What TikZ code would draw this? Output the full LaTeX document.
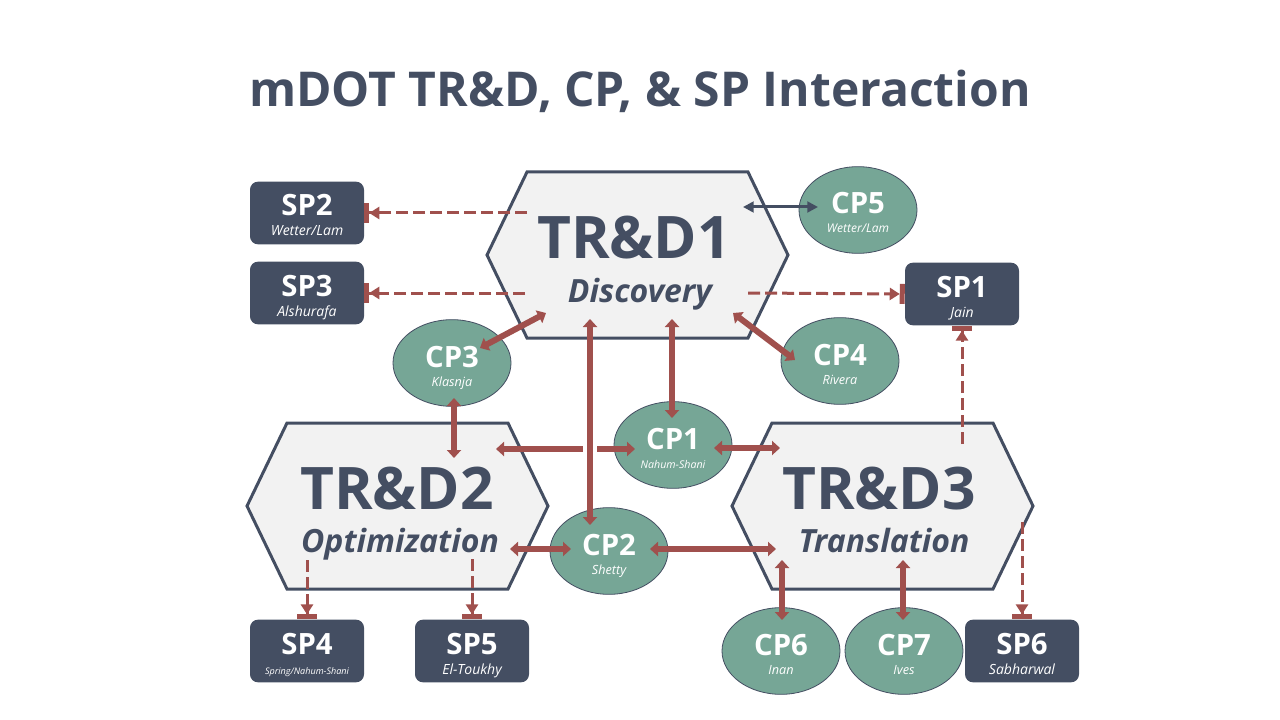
\documentclass[tikz,border=0pt]{standalone}
\usepackage{fontspec}
\setmainfont{Open Sans}
\usetikzlibrary{arrows.meta,calc,shapes.geometric}

\definecolor{slate}{RGB}{68,78,98}
\definecolor{cpgreen}{RGB}{118,166,150}
\definecolor{arrred}{RGB}{160,80,77}
\definecolor{hexfill}{RGB}{242,242,242}

% hexagon: name, x, y
\newcommand{\hexa}[3]{%
  \coordinate (#1) at (#2,#3);
  \draw[hexline] ($(#1)+(-150,0)$) -- ++(40,-83) -- ++(221,0) -- ++(40,83) -- ++(-40,83) -- ++(-221,0) -- cycle;}
% box or ellipse with label and name under it
\newcommand{\spnode}[6][10.5]{%
  \node[spbox] (#2) at (#3,#4) {};
  \node[boxlbl] (#2l) at ($(#2)+(0,3)$) {#5};
  \node[boxsub,font=\fontsize{#1}{#1}\selectfont\itshape] (#2s) at ($(#2)+(0,23)$) {#6};}
\newcommand{\cpnode}[6][9.5]{%
  \node[cpell] (#2) at (#3,#4) {};
  \node[boxlbl] (#2l) at ($(#2)+(0,4)$) {#5};
  \node[boxsub,font=\fontsize{#1}{#1}\selectfont\itshape] (#2s) at ($(#2)+(0,23)$) {#6};}

\begin{document}
\begin{tikzpicture}[x=0.75pt,y=-0.75pt,
  hexline/.style={draw=slate,fill=hexfill,line width=2.25pt},
  hextitle/.style={text=slate,anchor=base,inner sep=0pt,font=\fontsize{44}{44}\selectfont\bfseries},
  hexsub/.style={text=slate,anchor=base,inner sep=0pt,font=\fontsize{24}{24}\selectfont\bfseries\itshape},
  spbox/.style={fill=slate,rounded corners=6pt,minimum width=85.5pt,minimum height=47pt,inner sep=0pt},
  cpell/.style={ellipse,fill=cpgreen,draw=slate,line width=0.6pt,minimum width=88.5pt,minimum height=65pt,inner sep=0pt},
  boxlbl/.style={text=white,anchor=base,inner sep=0pt,font=\fontsize{22}{22}\selectfont\bfseries},
  boxsub/.style={text=white,anchor=base,inner sep=0pt},
  spline/.style={draw=arrred,line width=2.25pt,dash pattern=on 9pt off 3.75pt,
    -{Triangle[length=7.5pt,width=9pt] Bar[width=15pt,line width=3.75pt]}},
  cpline/.style={draw=arrred,line width=4.5pt,
    {Triangle[length=6pt,width=10.5pt]}-{Triangle[length=6pt,width=10.5pt]}},
  cpleft/.style={draw=arrred,line width=4.5pt,{Triangle[length=6pt,width=10.5pt]}-},
  cpright/.style={draw=arrred,line width=4.5pt,-{Triangle[length=6pt,width=10.5pt]}},
  darkline/.style={draw=slate,line width=2.25pt,
    {Triangle[length=8pt,width=8pt]}-{Triangle[length=8pt,width=8pt]}}]
%	\draw[help lines] (0,0) grid[step=40] (1280,720);
\useasboundingbox (0,0) rectangle (1280,720);

\node[text=slate,anchor=base,font=\fontsize{36}{36}\selectfont\bfseries] (title) at (640,107)
  {mDOT TR\&D, CP, \& SP Interaction};

% the three TR&D hexagons
\hexa{d1}{637}{255}
\hexa{d2}{397}{506}
\hexa{d3}{882}{506}
\node[hextitle] (d1t) at ($(d1)+(-3,3)$) {TR\&D1};
\node[hexsub] (d1s) at ($(d1)+(3,47)$) {Discovery};
\node[hextitle] (d2t) at ($(d2)+(0,3)$) {TR\&D2};
\node[hexsub] (d2s) at ($(d2)+(3,46)$) {Optimization};
\node[hextitle] (d3t) at ($(d3)+(-3,3)$) {TR\&D3};
\node[hexsub] (d3s) at ($(d3)+(2,46)$) {Translation};

% service projects
\spnode{sp1}{962}{294}{SP1}{Jain}
\spnode{sp2}{307}{213}{SP2}{Wetter/Lam}
\spnode{sp3}{307}{293}{SP3}{Alshurafa}
\spnode[6.8]{sp4}{307}{651}{SP4}{Spring/Nahum-Shani}
\spnode{sp5}{472}{651}{SP5}{El-Toukhy}
\spnode{sp6}{1022}{651}{SP6}{Sabharwal}

% collaborative projects
\cpnode[8]{cp1}{673}{445}{CP1}{Nahum-Shani}
\cpnode{cp2}{609}{551}{CP2}{Shetty}
\cpnode{cp3}{452}{363}{CP3}{Klasnja}
\cpnode{cp4}{840}{361}{CP4}{Rivera}
\cpnode[9]{cp5}{858}{210}{CP5}{Wetter/Lam}
\cpnode{cp6}{781}{651}{CP6}{Inan}
\cpnode{cp7}{904}{651}{CP7}{Ives}

% TR&D -> SP
\draw[spline] ($(d1)+(-110,-42)$) -- (sp2.east);
\draw[spline] ($(d1)+(-112,38)$) -- (sp3.east);
\draw[spline] ($(d1)+(111,38)$) -- (sp1.west);
\draw[spline] ($(d3)+(80,-62)$) -- (sp1.south);
\draw[spline] ($(d2)+(-90,54)$) -- (sp4.north);
\draw[spline] ($(d2)+(75,53)$) -- (sp5.north);
\draw[spline] ($(d3)+(140,16)$) -- (sp6.north);

% TR&D <-> CP
\draw[darkline] ($(d1)+(106,-48)$) -- ($(cp5)+(-40,-3)$);
\draw[cpline] ($(cp3)+(28,-15)$) -- ($(d1)+(-91,58)$);
\draw[cpline] ($(d1)+(96,58)$) -- ($(cp4)+(-45,-1)$);
\draw[cpline] ($(d1)+(35,64)$) -- ($(cp1)+(-1,-27)$);
\draw[cpline] ($(cp3)+(2,35)$) -- ($(d2)+(57,-48)$);
\draw[cpleft] ($(d2)+(99,-57)$) -- ($(d2)+(186,-57)$);
\draw[cpright] ($(d2)+(200,-57)$) -- ($(cp1)+(-38,4)$);
\draw[cpline] ($(d1)+(-47,64)$) -- ($(cp2)+(-19,-26)$);
\draw[cpline] ($(cp1)+(41,3)$) -- ($(d3)+(-102,-58)$);
\draw[cpline] ($(d2)+(113,43)$) -- ($(cp2)+(-38,-2)$);
\draw[cpline] ($(cp2)+(41,-2)$) -- ($(d3)+(-106,43)$);
\draw[cpline] ($(d3)+(-100,54)$) -- ($(cp6)+(1,-31)$);
\draw[cpline] ($(d3)+(21,54)$) -- ($(cp7)+(-1,-31)$);
\end{tikzpicture}
\end{document}
